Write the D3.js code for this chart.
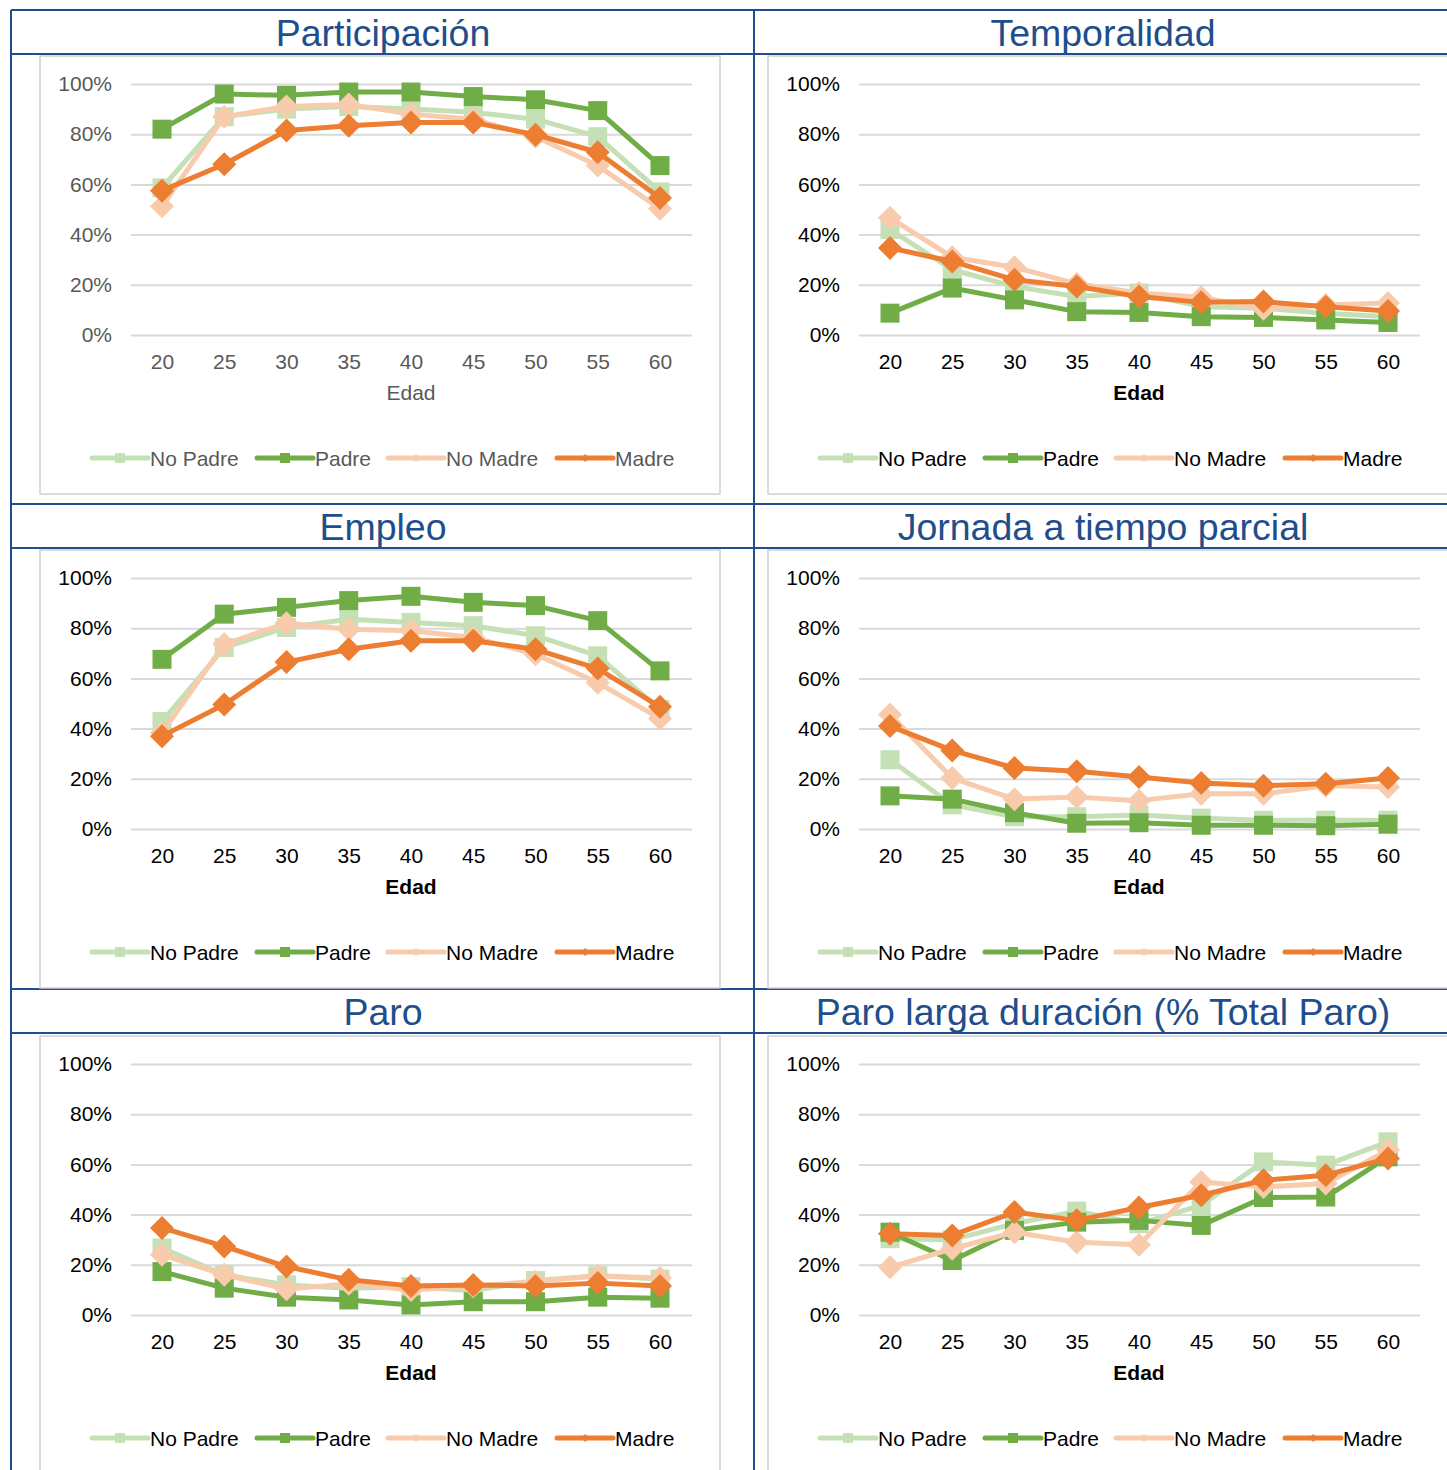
<!DOCTYPE html>
<html>
<head>
<meta charset="utf-8">
<script src="https://cdn.jsdelivr.net/npm/d3@7"></script>
<style>
  body { margin: 0; background: #fff; }
  svg { display: block; font-family: Arial, "Liberation Sans", sans-serif; }
</style>
</head>
<body>
<div id="chart"></div>
<script>
// Data

var ages = [20, 25, 30, 35, 40, 45, 50, 55, 60];
var yTicks = [0, 0.2, 0.4, 0.6, 0.8, 1];
var seriesNames = ["No Padre", "Padre", "No Madre", "Madre"];

var titles = ["Participación", "Temporalidad", "Empleo",
              "Jornada a tiempo parcial", "Paro", "Paro larga duración (% Total Paro)"];

var participacion = [
  [58.6, 87, 90, 91, 90, 88.7, 86, 79, 57],
  [82, 96, 95.5, 96.8, 96.8, 95, 93.7, 89.4, 67.5],
  [51.3, 87, 91, 91.8, 88, 86, 79, 67.5, 50.3],
  [57.5, 68, 81.5, 83.4, 84.7, 84.7, 79.8, 72.8, 54.6]
];
var temporalidad = [
  [42, 26, 19.3, 15.3, 16.7, 11.3, 10.7, 8.7, 7.3],
  [8.7, 18.7, 14, 9.3, 9, 7.3, 7, 6, 5],
  [46.7, 31, 27, 20.4, 16.7, 15, 10.5, 12, 12.7],
  [34.7, 29.3, 22, 19.3, 15.3, 13, 13.3, 11.3, 9.6]
];
var empleo = [
  [42.8, 72.3, 80.3, 83.6, 82.3, 81, 77, 69, 47.6],
  [67.6, 85.6, 88.3, 91, 92.7, 90.3, 89, 83, 63],
  [38.3, 73.6, 82, 79.6, 79, 76.3, 69.6, 58.3, 44],
  [37, 49.6, 66.5, 71.6, 75, 75, 71.6, 63.9, 48.7]
];
var jornada = [
  [27.6, 9.6, 4.9, 4.9, 5.6, 4.3, 3.5, 3.5, 3.5],
  [13.2, 11.9, 6.5, 2.3, 2.5, 1.5, 1.5, 1.3, 1.9],
  [45.6, 20.3, 11.9, 12.7, 11.3, 14, 14, 17.2, 16.7],
  [41, 31.3, 24.3, 23, 20.7, 18.3, 17.2, 18, 20.3]
];
var paro = [
  [26.7, 16, 12, 10.7, 11.3, 9.7, 13.7, 15.6, 14.3],
  [17.3, 10.7, 7.1, 6, 4, 5.3, 5.3, 7.1, 6.7],
  [24, 16, 10.3, 12.5, 10, 11.5, 13.3, 15.6, 14.7],
  [34.7, 27.3, 19.3, 14, 11.6, 12, 11.6, 12.7, 11.6]
];
var paroLarga = [
  [30.4, 30, 36.4, 41.4, 36.4, 43.7, 61, 59.7, 69],
  [33, 21.7, 33.7, 37, 37.7, 35.7, 46.8, 47, 63],
  [19, 26.4, 33, 29, 28, 53, 51, 52.4, 65.7],
  [32.4, 31.7, 41, 37.7, 42.8, 47.7, 53.7, 55.7, 62.4]
];

var panelData = [participacion, temporalidad, empleo, jornada, paro, paroLarga];

// Layout

var width = 1447, height = 1470;
var colors = ["#C5E0B4", "#70AD47", "#F8CBAD", "#ED7D31"];
var shapes = ["square", "square", "diamond", "diamond"];
var navy = "#1F4E8C";
var rowTops = [10, 504, 989];

var svg = d3.select("#chart").append("svg")
    .attr("width", width)
    .attr("height", height);

// outer table lines
var table = svg.append("g").attr("stroke", navy).attr("stroke-width", 2);
table.append("line").attr("x1", 11).attr("x2", 11).attr("y1", 10).attr("y2", height);
table.append("line").attr("x1", 754).attr("x2", 754).attr("y1", 10).attr("y2", height);
rowTops.forEach(function(t) {
  table.append("line").attr("x1", 11).attr("x2", width).attr("y1", t).attr("y2", t);
  table.append("line").attr("x1", 11).attr("x2", width).attr("y1", t + 44).attr("y2", t + 44);
});

function marker(g, shape, x, y, size, color) {
  if (shape === "square") {
    g.append("rect")
      .attr("x", x - size / 2).attr("y", y - size / 2)
      .attr("width", size).attr("height", size)
      .attr("fill", color);
  } else {
    var r = size / 2;
    g.append("path")
      .attr("d", "M" + x + "," + (y - r) + "L" + (x + r) + "," + y +
                 "L" + x + "," + (y + r) + "L" + (x - r) + "," + y + "Z")
      .attr("fill", color);
  }
}

panelData.forEach(function(data, i) {
  var col = i % 2, row = Math.floor(i / 2);
  var dx = col * 728;
  var dy = [0, 494, 980][row];
  var first = i === 0;
  var textColor = first ? "#595959" : "#000";

  var g = svg.append("g").attr("transform", "translate(" + dx + "," + dy + ")");

  // title
  svg.append("text")
    .attr("x", col === 0 ? 383 : 1103)
    .attr("y", rowTops[row] + 36)
    .attr("text-anchor", "middle")
    .attr("fill", navy)
    .style("font-size", "37.5px")
    .text(titles[i]);

  // chart box
  var boxH = row === 2 ? 500 : 438;
  g.append("rect")
    .attr("x", 40).attr("y", 56)
    .attr("width", col === 0 ? 680 : 720)
    .attr("height", boxH)
    .attr("fill", "none")
    .attr("stroke", "#d0d0d0")
    .attr("stroke-width", 1.5);

  var x = d3.scaleLinear().domain([20, 60]).range([162, 660]);
  var y = d3.scaleLinear().domain([0, 1]).range([335, 84]);

  var yAxis = g.append("g")
    .attr("transform", "translate(131,0)")
    .call(d3.axisLeft(y).tickValues(yTicks).tickFormat(d3.format(".0%"))
          .tickSize(-561).tickPadding(19));
  yAxis.select(".domain").remove();
  yAxis.selectAll("line").attr("stroke", "#d9d9d9").attr("stroke-width", 2);
  yAxis.selectAll("text").attr("fill", textColor)
    .style("font-size", "21px").attr("font-family", null);

  var xAxis = g.append("g")
    .attr("transform", "translate(0,346)")
    .call(d3.axisBottom(x).tickValues(ages).tickSize(0).tickPadding(8));
  xAxis.select(".domain").remove();
  xAxis.selectAll("text").attr("fill", textColor)
    .style("font-size", "21px").attr("font-family", null);

  g.append("text")
    .attr("x", 411).attr("y", 400)
    .attr("text-anchor", "middle")
    .attr("fill", textColor)
    .style("font-size", "21px")
    .style("font-weight", first ? "normal" : "bold")
    .text("Edad");

  var line = d3.line()
    .x(function(d, j) { return x(ages[j]); })
    .y(function(d) { return y(d / 100); });

  data.forEach(function(vals, s) {
    var sg = g.append("g");
    sg.append("path")
      .datum(vals)
      .attr("d", line)
      .attr("fill", "none")
      .attr("stroke", colors[s])
      .attr("stroke-width", 5)
      .attr("stroke-linejoin", "round");
    vals.forEach(function(v, j) {
      marker(sg, shapes[s], x(ages[j]), y(v / 100), shapes[s] === "square" ? 19 : 24, colors[s]);
    });
  });

  // legend
  var legendX = [92, 257, 388, 557];
  seriesNames.forEach(function(name, s) {
    var lg = g.append("g").attr("transform", "translate(" + legendX[s] + ",458)");
    lg.append("line")
      .attr("x1", 0).attr("x2", 56)
      .attr("stroke", colors[s]).attr("stroke-width", 5)
      .attr("stroke-linecap", "round");
    marker(lg, shapes[s], 28, 0, shapes[s] === "square" ? 10 : 8, colors[s]);
    lg.append("text")
      .attr("x", 58).attr("y", 7.5)
      .attr("fill", textColor)
      .style("font-size", "21px")
      .text(name);
  });
});
</script>
</body>
</html>
